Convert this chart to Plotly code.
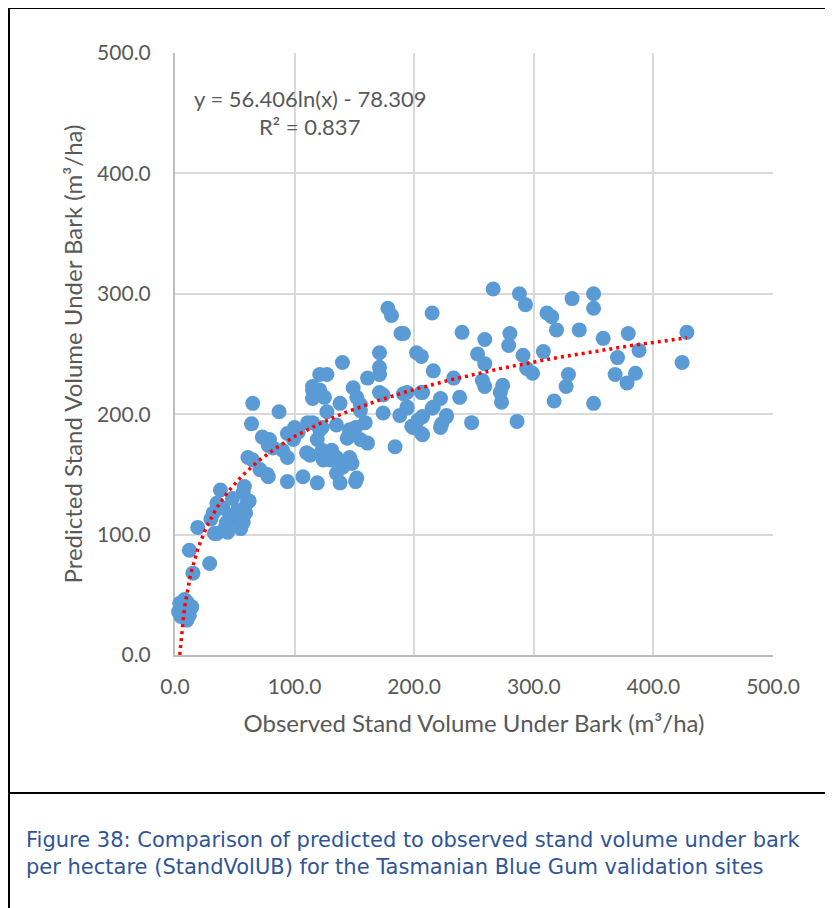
import numpy as np
import plotly.graph_objects as go

# Observed (x) and predicted (y) stand volume under bark (m3/ha)
observed = [
    3, 4, 6, 7, 8, 10, 10, 12, 14, 5, 9,
    15, 29, 12, 19,
    38, 35, 32, 57, 60, 59, 57, 46, 43, 35, 44, 50, 33, 40, 52, 48, 55, 62, 42, 30, 58,
    65, 87, 64, 73, 78, 82, 61, 65, 71, 78, 94, 107, 94, 100, 111, 94, 90, 103, 79, 99, 77,
    121, 127, 115, 140, 125, 127, 121, 119, 110, 123, 131, 124, 130, 119, 135, 151, 138,
    146, 151, 155, 161, 138, 149, 161, 152, 155, 171, 171, 174, 174, 159, 146, 140, 171,
    202, 115, 121, 115, 171, 194, 207, 194, 188, 155, 227, 216, 222, 203, 199, 207, 135,
    146, 144, 123, 115, 135, 113, 148, 152, 184, 178, 181, 189, 215,
    206, 216, 233, 240, 257, 259, 274, 272, 273, 191, 206, 222, 238, 215, 227, 194, 207,
    198, 223, 248, 286, 206, 259, 253, 259, 266, 280, 279, 288, 293, 291, 294, 299, 191,
    308, 311, 315, 319, 317, 329, 327, 332, 338, 350, 350, 350, 358, 368, 370, 378, 379,
    385, 388, 424, 428,
]
predicted = [
    36, 43, 40, 37, 46, 44, 29, 33, 40, 32, 38,
    68, 76, 87, 106,
    137, 126, 118, 135, 126, 118, 110, 115, 110, 101, 102, 112, 101, 122, 120, 130, 105, 128, 106, 113, 140,
    209, 202, 192, 181, 174, 172, 164, 162, 154, 148, 144, 148, 184, 189, 193, 164, 170, 185, 179, 179, 150,
    233, 233, 220, 243, 214, 202, 187, 179, 168, 170, 170, 162, 162, 143, 151, 144, 143,
    184, 189, 179, 176, 209, 222, 230, 214, 208, 239, 233, 216, 201, 193, 164, 156, 251,
    251, 223, 220, 213, 218, 218, 218, 206, 199, 203, 198, 206, 189, 195, 189, 183, 191,
    187, 180, 189, 193, 164, 166, 159, 147, 173, 288, 282, 267, 284,
    248, 236, 230, 268, 228, 223, 224, 218, 210, 217, 218, 213, 214, 205, 199, 205, 198,
    190, 192, 193, 194, 184, 262, 250, 242, 304, 267, 257, 300, 291, 249, 238, 234, 267,
    252, 284, 281, 270, 211, 233, 223, 296, 270, 300, 288, 209, 263, 233, 247, 226, 267,
    234, 253, 243, 268,
]

# Logarithmic trendline reported on the chart
coef_a = 56.406
coef_b = -78.309
equation_text = "y = 56.406ln(x) - 78.309"
r2_text = "R² = 0.837"

x_ticks = [0, 100, 200, 300, 400, 500]
y_ticks = [0, 100, 200, 300, 400, 500]

caption = ("Figure 38: Comparison of predicted to observed stand volume under bark<br>"
           "per hectare (StandVolUB) for the Tasmanian Blue Gum validation sites")

x_start = np.exp(-coef_b / coef_a)
trend_x = np.linspace(x_start, max(observed), 400)
trend_y = coef_a * np.log(trend_x) + coef_b

fig = go.Figure()
fig.add_trace(go.Scatter(
    x=observed, y=predicted, mode="markers",
    marker=dict(color="#5B9BD5", size=15, line=dict(width=0)),
    cliponaxis=False, showlegend=False, hoverinfo="skip",
))
fig.add_trace(go.Scatter(
    x=trend_x, y=trend_y, mode="lines",
    line=dict(color="#FF0000", width=3.5, dash="3px,4px"),
    showlegend=False, hoverinfo="skip",
))

FONT = "Lato, Open Sans, sans-serif"
tick_font = dict(family=FONT, size=21, color="#595959")
title_font = dict(family=FONT, size=24, color="#595959")

fig.update_xaxes(
    range=[0, 500], tickvals=x_ticks, tickformat=".1f",
    showgrid=True, gridcolor="#D9D9D9", gridwidth=1.5,
    showline=True, linecolor="#BFBFBF", linewidth=2,
    zeroline=False, ticks="outside", ticklen=12, tickcolor="rgba(0,0,0,0)",
    tickfont=tick_font, layer="below traces",
    title=dict(text="Observed Stand Volume Under Bark (m³/ha)", font=title_font, standoff=18),
)
fig.update_yaxes(
    range=[0, 500], tickvals=y_ticks, tickformat=".1f",
    showgrid=True, gridcolor="#D9D9D9", gridwidth=1.5,
    showline=True, linecolor="#BFBFBF", linewidth=2,
    zeroline=False, ticks="outside", ticklen=18, tickcolor="rgba(0,0,0,0)",
    tickfont=tick_font, layer="below traces",
    title=dict(text="Predicted Stand Volume Under Bark (m³/ha)", font=title_font, standoff=8),
)

frame = dict(color="black", width=2)
fig.update_layout(
    width=825, height=900,
    margin=dict(l=167, r=60, t=45, b=253),
    paper_bgcolor="white", plot_bgcolor="white",
    shapes=[
        dict(type="line", xref="paper", yref="paper", x0=-0.2776, x1=1.12, y0=1.0748, y1=1.0748, line=frame),
        dict(type="line", xref="paper", yref="paper", x0=-0.2776, x1=-0.2776, y0=1.0748, y1=-0.45, line=frame),
        dict(type="line", xref="paper", yref="paper", x0=-0.2776, x1=1.12, y0=-0.2292, y1=-0.2292, line=frame),
    ],
    annotations=[
        dict(text=equation_text, xref="paper", yref="paper", x=0.225, y=0.925,
             showarrow=False, xanchor="center", yanchor="middle",
             font=dict(family=FONT, size=22, color="#595959")),
        dict(text=r2_text, xref="paper", yref="paper", x=0.225, y=0.878,
             showarrow=False, xanchor="center", yanchor="middle",
             font=dict(family=FONT, size=22, color="#595959")),
        dict(text=caption, xref="paper", yref="paper", x=-0.253, y=-0.2834,
             showarrow=False, xanchor="left", yanchor="top", align="left",
             font=dict(family="DejaVu Sans, sans-serif", size=21, color="#2F5597")),
    ],
)

fig.write_html("out.html")
